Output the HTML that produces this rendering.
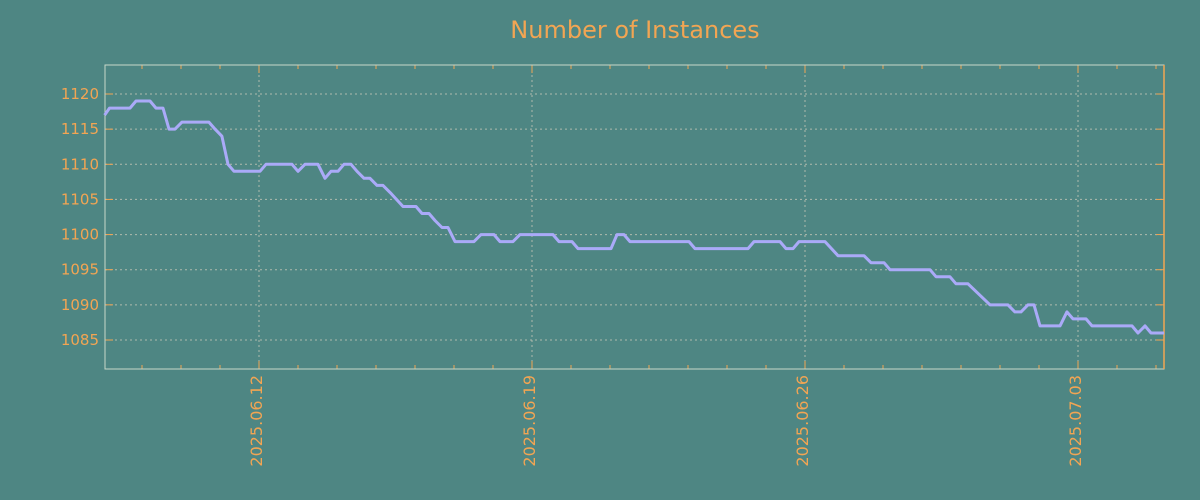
<!DOCTYPE html>
<html><head><meta charset="utf-8"><style>
body{margin:0;background:#4e8683;}
svg{display:block;font-family:"DejaVu Sans","Liberation Sans",sans-serif;}
</style></head><body>
<svg id="chart" width="1200" height="500" xmlns="http://www.w3.org/2000/svg">
<rect width="1200" height="500" fill="#4e8683"/>
<text x="635" y="38" text-anchor="middle" font-size="24" fill="#f2a553">Number of Instances</text>
<g id="grid"></g><g id="axes"></g><g id="series"></g>
</svg>
<script>
const hours = [-95,-92,-79.4,-75.7,-67.1,-63.4,-59.1,-55.4,-51.7,-47.4,-30.8,-27.1,-22.8,-19.1,-15.4,0.6,4.3,20.3,24,28.3,36.3,40.6,44.3,48.6,52.3,56.6,60.3,64.6,68.3,72.6,76.3,80.6,88.6,96.6,100.3,104.6,108.3,112.6,116.3,120.6,132.3,136.6,144.6,148.3,156.3,160.6,180.9,184.6,192.6,196.3,216.6,220.3,224.6,228.3,264.6,268.3,300.9,304.6,320.6,324.3,328.6,332.3,348.3,356.3,372.3,376.6,384.6,388.3,412.9,416.6,425.2,428.9,436.3,449.9,460.9,465.2,468.9,473.2,476.9,480.6,492.9,497.2,500.9,508.9,512.6,537.2,540.9,545.2,548.9,557];
const instances = [1117,1118,1118,1119,1119,1118,1118,1115,1115,1116,1116,1115,1114,1110,1109,1109,1110,1110,1109,1110,1110,1108,1109,1109,1110,1110,1109,1108,1108,1107,1107,1106,1104,1104,1103,1103,1102,1101,1101,1099,1099,1100,1100,1099,1099,1100,1100,1099,1099,1098,1098,1100,1100,1099,1099,1098,1098,1099,1099,1098,1098,1099,1099,1097,1097,1096,1096,1095,1095,1094,1094,1093,1093,1090,1090,1089,1089,1090,1090,1087,1087,1089,1088,1088,1087,1087,1086,1087,1086,1086];
const yTicks = [1085,1090,1095,1100,1105,1110,1115,1120];
const xTickDays = [0,7,14,21];
const xTickLabels = ["2025.06.12","2025.06.19","2025.06.26","2025.07.03"];
const minorDays = [-3,-2,-1,0,1,2,3,4,5,6,7,8,9,10,11,12,13,14,15,16,17,18,19,20,21,22,23];

const L=105,R=1164,T=65,B=369;
const xs = h => 259 + h/24*39;
const ys = v => 94 + (1120 - v)*(246/35);
const NS="http://www.w3.org/2000/svg";
function mk(tag,attrs,parent){const e=document.createElementNS(NS,tag);for(const k in attrs)e.setAttribute(k,attrs[k]);parent.appendChild(e);return e;}
const grid=document.getElementById('grid'),axes=document.getElementById('axes'),series=document.getElementById('series');
const OR="#f2a553";
yTicks.forEach(v=>{
  const y=ys(v);
  const g=mk('line',{x1:L,x2:R,y1:y,y2:y,stroke:"#c8c8b8","stroke-width":1,"stroke-dasharray":"2,3",opacity:0.8},grid);
  
  
  const t=mk('line',{x1:L,x2:L+8,y1:y,y2:y,stroke:OR,"stroke-width":1},axes);
  
  
  const t2=mk('line',{x1:R-8,x2:R,y1:y,y2:y,stroke:OR,"stroke-width":1},axes);
  
  
  const lb=mk('text',{x:99,y:y+5,"text-anchor":"end","font-size":15,fill:OR},axes);
  lb.textContent=v;
  
  
});
xTickDays.forEach((d,i)=>{
  const x=xs(d*24);
  const g=mk('line',{x1:x,x2:x,y1:T,y2:B,stroke:"#c8c8b8","stroke-width":1,"stroke-dasharray":"2,3",opacity:0.8},grid);
  
  
  const lb=mk('text',{transform:`translate(${x+3},375) rotate(-90)`,"text-anchor":"end","font-size":16,fill:OR},axes);
  lb.textContent=xTickLabels[i];
  
  
});
minorDays.forEach(d=>{
  const x=xs(d*24);
  const big=xTickDays.includes(d)?8:4;
  const a=mk('line',{x1:x,x2:x,y1:B-big,y2:B,stroke:OR,"stroke-width":1},axes);
  
  
  const b=mk('line',{x1:x,x2:x,y1:T,y2:T+big,stroke:OR,"stroke-width":1},axes);
  
  
});
const frame=mk('rect',{x:L,y:T,width:R-L,height:B-T,fill:"none",stroke:"#c8d8c8","stroke-width":1},axes);


const ra=mk('line',{x1:R,x2:R,y1:T,y2:B,stroke:OR,"stroke-width":1.5},axes);


const pts=hours.map((h,i)=>xs(h).toFixed(1)+","+ys(instances[i]).toFixed(1)).join(" ");
const line=mk('polyline',{points:pts,fill:"none",stroke:"#aaaaf8","stroke-width":3,"stroke-linejoin":"round"},series);


</script>
</body></html>
